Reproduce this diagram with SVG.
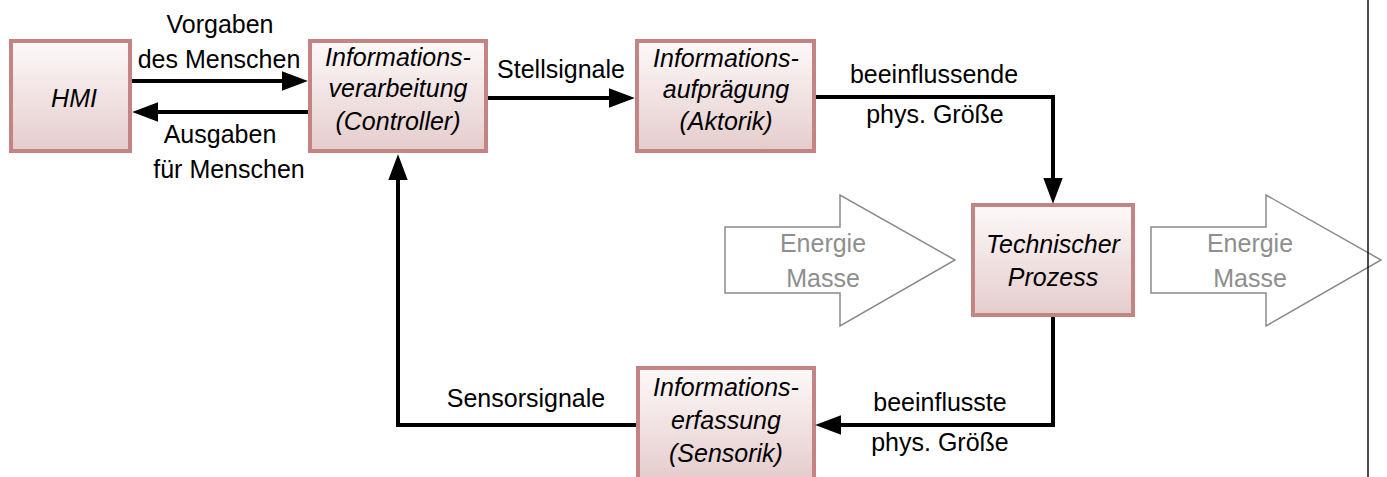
<svg xmlns="http://www.w3.org/2000/svg" width="1387" height="477" viewBox="0 0 1387 477">
<defs>
<linearGradient id="boxfill" x1="0" y1="0" x2="0" y2="1">
<stop offset="0" stop-color="#fdf9f9"/>
<stop offset="1" stop-color="#e5cccc"/>
</linearGradient>
<marker id="ah" markerUnits="userSpaceOnUse" markerWidth="26" markerHeight="20" refX="14" refY="9" orient="auto" viewBox="0 0 24 18">
<path d="M0,0 L24,9 L0,18 Z" fill="#000"/>
</marker>
<style>
.box{fill:url(#boxfill);stroke:#c48484;stroke-width:4}
.nt{font-family:"Liberation Sans",Arial,sans-serif;font-size:25px;font-style:italic;fill:#000;text-anchor:middle}
.lb{font-family:"Liberation Sans",Arial,sans-serif;font-size:25px;fill:#000;text-anchor:middle}
.gt{font-family:"Liberation Sans",Arial,sans-serif;font-size:25px;fill:#8e8e8e;text-anchor:middle}
.con{fill:none;stroke:#000;stroke-width:4;marker-end:url(#ah)}
.big{fill:#fff;stroke:#8a8a8a;stroke-width:1.5}
</style>
</defs>
<rect width="1387" height="477" fill="#fff"/>

<g id="flow-in">
<path class="big" d="M725,227 H840 V195 L955,260 L840,326 V293 H725 Z"/>
<text class="gt" x="823" y="252">Energie</text>
<text class="gt" x="823" y="287">Masse</text>
</g>
<g id="flow-out">
<path class="big" d="M1151,227 H1266 V195 L1381,260 L1266,326 V293 H1151 Z"/>
<text class="gt" x="1250" y="252">Energie</text>
<text class="gt" x="1250" y="287">Masse</text>
</g>

<g id="hmi">
<rect class="box" x="11" y="41" width="119" height="110"/>
<text class="nt" x="74" y="107">HMI</text>
</g>
<g id="controller">
<rect class="box" x="310" y="41" width="176" height="110"/>
<text class="nt" x="398" y="66">Informations-</text>
<text class="nt" x="398" y="97">verarbeitung</text>
<text class="nt" x="398" y="130">(Controller)</text>
</g>
<g id="aktorik">
<rect class="box" x="637" y="41" width="177" height="110"/>
<text class="nt" x="726" y="67">Informations-</text>
<text class="nt" x="726" y="98">aufprägung</text>
<text class="nt" x="726" y="130">(Aktorik)</text>
</g>
<g id="prozess">
<rect class="box" x="973" y="205" width="160" height="110"/>
<text class="nt" x="1053" y="253">Technischer</text>
<text class="nt" x="1053" y="286">Prozess</text>
</g>
<g id="sensorik">
<rect class="box" x="638" y="368" width="176" height="112"/>
<text class="nt" x="726" y="396">Informations-</text>
<text class="nt" x="726" y="429">erfassung</text>
<text class="nt" x="726" y="462">(Sensorik)</text>
</g>

<g id="connectors">
<path class="con" d="M132,81 H297"/>
<path class="con" d="M308,112 H143"/>
<path class="con" d="M488,98 H624"/>
<path class="con" d="M816,97 H1053 V193"/>
<path class="con" d="M1053,317 V425 H826"/>
<path class="con" d="M636,425 H398 V165"/>
</g>

<g id="labels">
<text class="lb" x="220" y="33">Vorgaben</text>
<text class="lb" x="219" y="68">des Menschen</text>
<text class="lb" x="220" y="143">Ausgaben</text>
<text class="lb" x="229" y="178">für Menschen</text>
<text class="lb" x="561" y="78">Stellsignale</text>
<text class="lb" x="934" y="83">beeinflussende</text>
<text class="lb" x="935" y="123">phys. Größe</text>
<text class="lb" x="940" y="411">beeinflusste</text>
<text class="lb" x="940" y="451">phys. Größe</text>
<text class="lb" x="526" y="407">Sensorsignale</text>
</g>

<line id="frame-line" x1="1368" y1="0" x2="1368" y2="477" stroke="#111" stroke-width="1.5"/>
</svg>
